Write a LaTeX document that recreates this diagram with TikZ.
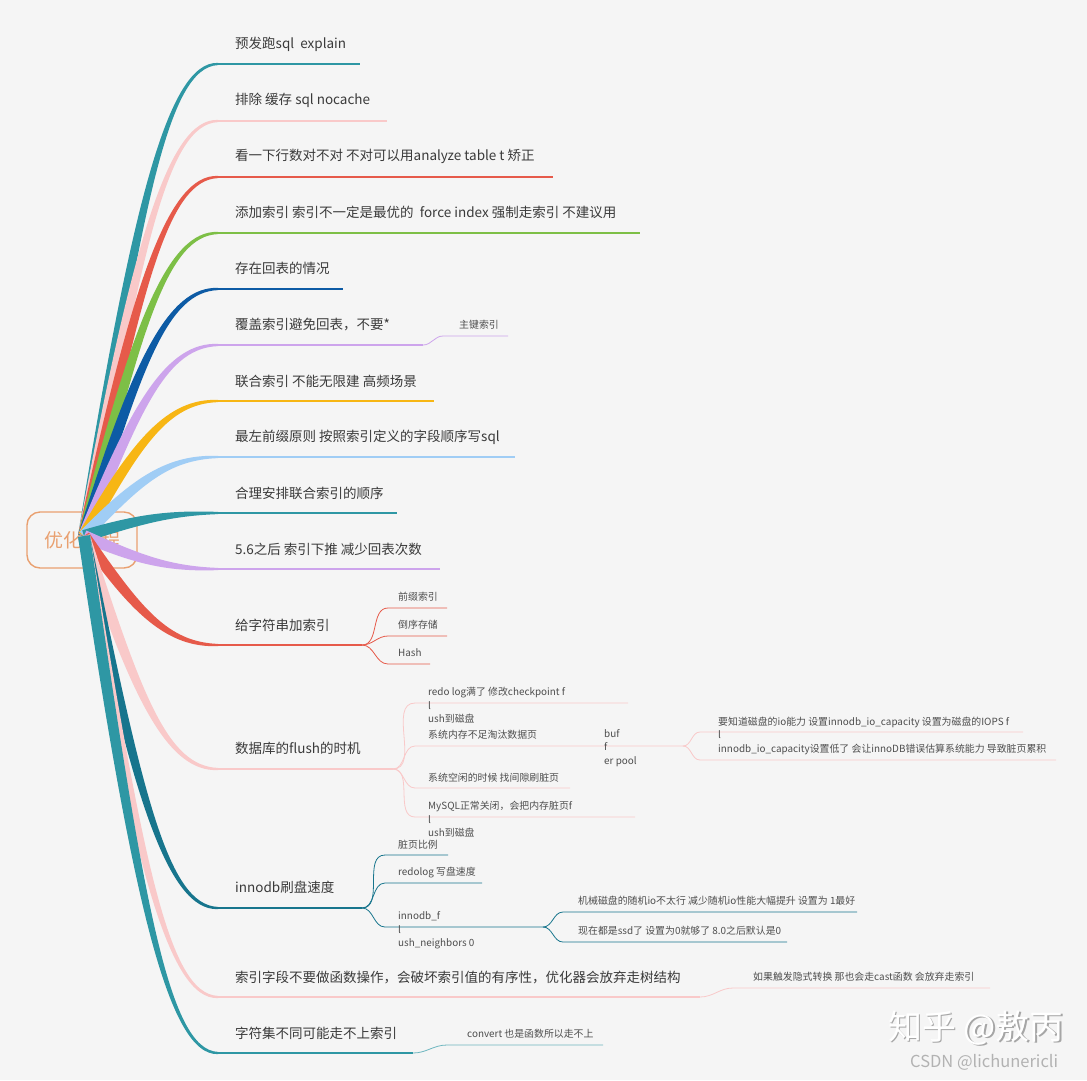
\documentclass[tikz,border=0pt]{standalone}
\usepackage{fontspec}
\newfontfamily\cjk{Noto Sans CJK SC}
\usetikzlibrary{calc}

\definecolor{bggray}{HTML}{F5F5F5}
\definecolor{ink}{HTML}{3A3A3A}
\definecolor{rootorange}{HTML}{E9A070}
\definecolor{tealA}{HTML}{2E97A4}
\definecolor{pinkA}{HTML}{F9C9C9}
\definecolor{redA}{HTML}{E65A4A}
\definecolor{greenA}{HTML}{7DBF46}
\definecolor{blueA}{HTML}{0D5BA5}
\definecolor{purpleA}{HTML}{CDA4EC}
\definecolor{yellowA}{HTML}{F7B614}
\definecolor{skyA}{HTML}{A0CDF5}
\definecolor{tealB}{HTML}{17758D}

\tikzset{
  topic/.style={anchor=west,inner sep=0pt,text=ink,font=\cjk\fontsize{13.5}{15}\selectfont},
  leaf/.style={anchor=west,inner sep=0pt,text=ink!90,align=left,font=\cjk\fontsize{9.9}{13.5}\selectfont},
  arm/.style={line width=0.8pt},
}

\begin{document}
\begin{tikzpicture}[x=1pt,y=-1pt]
\fill[bggray] (0,0) rectangle (1087,1080);
\useasboundingbox (0,0) rectangle (1087,1080);

\node[draw=rootorange,fill=bggray,line width=1.4pt,rounded corners=13pt,minimum width=110pt,minimum height=56pt,text=rootorange,font=\cjk\fontsize{19}{21}\selectfont] (root) at (82,540) {优化流程};
\coordinate (o) at (84,536);

\foreach \col/\ty/\ly/\xe/\txt [count=\i] in {
  tealA/44/64/360/{预发跑sql\ \ explain},
  pinkA/100/121/387/{排除 缓存 sql nocache},
  redA/156/177/553/{看一下行数对不对 不对可以用analyze table t 矫正},
  greenA/212/233/640/{添加索引 索引不一定是最优的\ \ force index 强制走索引 不建议用},
  blueA/268/289/343/{存在回表的情况},
  purpleA/325/345/423/{覆盖索引避免回表，不要*},
  yellowA/381/401/434/{联合索引 不能无限建 高频场景},
  skyA/437/457/515/{最左前缀原则 按照索引定义的字段顺序写sql},
  tealA/493/513/397/{合理安排联合索引的顺序},
  purpleA/549/569/440/{5.6之后 索引下推 减少回表次数},
  redA/625/645/362/{给字符串加索引},
  pinkA/748/769/393/{数据库的flush的时机},
  tealB/887/908/362/{innodb刷盘速度},
  pinkA/977/997/700/{索引字段不要做函数操作，会破坏索引值的有序性，优化器会放弃走树结构},
  tealA/1033/1053/413/{字符集不同可能走不上索引}
}{
  \coordinate (u\i) at (218,\ly);
  \coordinate (p\i) at (137,{536+0.7*(\ly-536)});
  \coordinate (q\i) at (168,\ly);
  \fill[\col] ($(o)!6pt!90:(p\i)$) .. controls ($(p\i)!5.5pt!-90:(o)$) and ($(q\i)+(0,-3)$) .. ($(u\i)+(0,-1.1)$)
    -- ($(u\i)+(0,1.1)$) .. controls ($(q\i)+(0,3)$) and ($(p\i)!5.5pt!90:(o)$) .. ($(o)!6pt!-90:(p\i)$) -- cycle;
  \draw[\col,line width=2.2pt] (u\i) -- (\xe,\ly);
  \node[topic] (l\i) at (235,\ty) {\txt};
}

\coordinate (f6) at (423,345);
\draw[purpleA,arm] (f6) to[out=0,in=180] (443,336) -- (508,336);
\node[leaf] (s6) at (459,325) {主键索引};

\coordinate (f11) at (362,645);
\foreach \y/\xe/\txt [count=\j] in {608/447/前缀索引,636/447/倒序存储,664/430/Hash}{
  \draw[redA,arm] (f11) to[out=0,in=180] (388,\y) -- (\xe,\y);
  \node[leaf] (s11\j) at (398,\y-11) {\txt};
}

\coordinate (f12) at (393,769);
\foreach \y/\xe in {703/628,746/683,788/570,817/635}
  \draw[pinkA,arm] (f12) to[out=0,in=180] (415,\y) -- (\xe,\y);
\node[leaf] (s121) at (428,705.5) {redo log满了 修改checkpoint f\\l\\ush到磁盘};
\node[leaf] (s122) at (428,735) {系统内存不足淘汰数据页};
\node[leaf] (s123) at (428,778) {系统空闲的时候 找间隙刷脏页};
\node[leaf] (s124) at (428,819.5) {MySQL正常关闭，会把内存脏页f\\l\\ush到磁盘};
\node[leaf] (b12) at (604,748) {buf\\f\\er pool};
\coordinate (f122) at (683,746);
\draw[pinkA,arm] (f122) to[out=0,in=180] (700,732) -- (1023,732);
\draw[pinkA,arm] (f122) to[out=0,in=180] (700,760) -- (1056,760);
\node[leaf] (s1221) at (718,728) {要知道磁盘的io能力 设置innodb\_io\_capacity 设置为磁盘的IOPS f\\l};
\node[leaf] (s1222) at (718,749) {innodb\_io\_capacity设置低了 会让innoDB错误估算系统能力 导致脏页累积};

\coordinate (f13) at (362,908);
\foreach \y/\xe in {855/448,883/482,927/543}
  \draw[tealB,arm] (f13) to[out=0,in=180] (385,\y) -- (\xe,\y);
\node[leaf] (s131) at (398,845) {脏页比例};
\node[leaf] (s132) at (398,873) {redolog 写盘速度};
\node[leaf] (s133) at (398,930.5) {innodb\_f\\l\\ush\_neighbors 0};
\coordinate (f133) at (543,927);
\draw[tealB,arm] (f133) to[out=0,in=180] (563,912) -- (857,912);
\draw[tealB,arm] (f133) to[out=0,in=180] (563,942) -- (787,942);
\node[leaf] (s1331) at (578,901) {机械磁盘的随机io不太行 减少随机io性能大幅提升 设置为 1最好};
\node[leaf] (s1332) at (578,931) {现在都是ssd了 设置为0就够了 8.0之后默认是0};

\coordinate (f14) at (700,997);
\draw[pinkA,arm] (f14) to[out=0,in=180] (733,988) -- (990,988);
\node[leaf] (s14) at (753,977) {如果触发隐式转换 那也会走cast函数 会放弃走索引};

\coordinate (f15) at (413,1053);
\draw[tealA!70,arm] (f15) to[out=0,in=180] (447,1045) -- (603,1045);
\node[leaf] (s15) at (467,1034) {convert 也是函数所以走不上};

\node[anchor=west,inner sep=0pt,text=gray!70,font=\cjk\fontsize{34}{36}\selectfont] at (889.5,1029.5) {知乎 @敖丙};
\node[anchor=west,inner sep=0pt,text=white,font=\cjk\fontsize{34}{36}\selectfont] (wm) at (888,1028) {知乎 @敖丙};
\node[anchor=west,inner sep=0pt,text=gray!60,font=\cjk\fontsize{16.5}{18}\selectfont] (csdn) at (910,1062) {CSDN @lichunericli};
\end{tikzpicture}
\end{document}
